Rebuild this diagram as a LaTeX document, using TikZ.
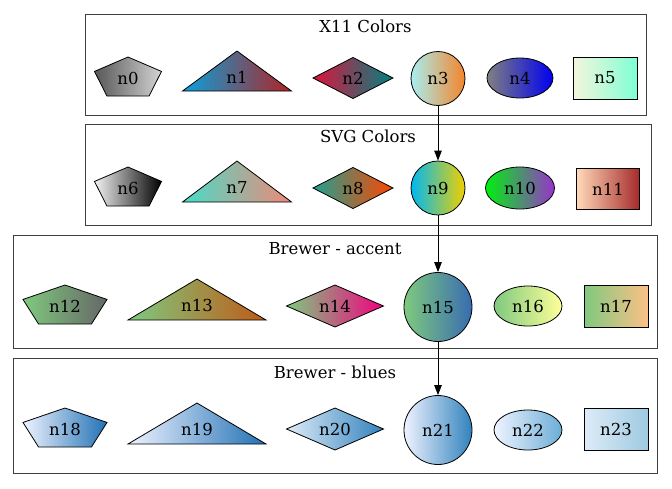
\documentclass[tikz,border=0pt]{standalone}
\usepackage{fontspec}
\setmainfont{DejaVu Serif}
\usetikzlibrary{shapes.geometric,arrows.meta}
\definecolor{c1a}{HTML}{0AA0DC}
\definecolor{c1b}{HTML}{B22222}
\definecolor{c2a}{HTML}{DC143C}
\definecolor{c2b}{HTML}{008080}
\definecolor{c3a}{HTML}{A8EEF0}
\definecolor{c3b}{HTML}{F4842A}
\definecolor{c4b}{HTML}{0000F0}
\definecolor{c5a}{HTML}{F5F5DC}
\definecolor{c5b}{HTML}{7FFFD4}
\definecolor{c7a}{HTML}{48DCC8}
\definecolor{c7b}{HTML}{F08878}
\definecolor{c8a}{HTML}{20A090}
\definecolor{c8b}{HTML}{FF4500}
\definecolor{c9a}{HTML}{00B8F0}
\definecolor{c9b}{HTML}{F0D000}
\definecolor{c10a}{HTML}{00F010}
\definecolor{c10b}{HTML}{9932CC}
\definecolor{c11a}{HTML}{FFDAB9}
\definecolor{c11b}{HTML}{A52A2A}
\definecolor{acc1}{HTML}{7FC97F}
\definecolor{acc3}{HTML}{FDC086}
\definecolor{acc4}{HTML}{FFFF99}
\definecolor{acc5}{HTML}{386CB0}
\definecolor{acc6}{HTML}{F0027F}
\definecolor{acc7}{HTML}{BF5B17}
\definecolor{acc8}{HTML}{666666}
\definecolor{bl1}{HTML}{EFF3FF}
\definecolor{bl2}{HTML}{DEEBF7}
\definecolor{bl4}{HTML}{9ECAE1}
\definecolor{bl5}{HTML}{6BAED6}
\definecolor{bl6}{HTML}{3182BD}
\definecolor{bl7}{HTML}{2171B5}
\newcommand\mypent[7]{% name, cx, ytop, w, h, lcol, rcol
  \path[nodeline, left color=#6, right color=#7] (#2,#3) -- ({#2+#4/2},{#3+0.37*#5}) -- ({#2+0.315*#4},{#3+#5}) -- ({#2-0.315*#4},{#3+#5}) -- ({#2-#4/2},{#3+0.37*#5}) -- cycle;
  \node[lbl] (#1) at (#2,{#3+0.55*#5}) {#1};}
\newcommand\mytri[7]{% name, cx, ytop, w, h, lcol, rcol
  \path[nodeline, left color=#6, right color=#7] (#2,#3) -- ({#2+#4/2},{#3+#5}) -- ({#2-#4/2},{#3+#5}) -- cycle;
  \node[lbl] (#1) at (#2,{#3+0.65*#5}) {#1};}
\newcommand\mydiam[7]{% name, cx, cy, w, h, lcol, rcol
  \path[nodeline, left color=#6, right color=#7] (#2,{#3-#5/2}) -- ({#2+#4/2},#3) -- (#2,{#3+#5/2}) -- ({#2-#4/2},#3) -- cycle;
  \node[lbl] (#1) at (#2,#3) {#1};}
\tikzset{
  txt/.style={font=\fontsize{16.5}{19}\selectfont},
  nodeline/.style={draw=black, line width=0.8pt},
  lbl/.style={inner sep=0pt, txt},
  cluster/.style={draw=black!75, line width=0.8pt},
  title/.style={inner sep=0pt, txt},
  ell/.style={ellipse, nodeline, inner sep=0pt, txt},
  circ/.style={circle, nodeline, inner sep=0pt, minimum size=54pt, txt},
  boxnode/.style={rectangle, nodeline, inner sep=0pt, txt},
  edge/.style={line width=0.8pt, -{Triangle[length=10pt,width=7.5pt]}}
}
\begin{document}
\begin{tikzpicture}[x=1pt,y=-1pt]
\useasboundingbox (0,0) rectangle (672,488);
% clusters
\draw[cluster] (85,14) rectangle (646,115);
\node[title] (t1) at (365.5,26) {X11 Colors};
\draw[cluster] (85,124) rectangle (651,225);
\node[title] (t2) at (368,136) {SVG Colors};
\draw[cluster] (13,235) rectangle (657,348);
\node[title] (t3) at (335,249) {Brewer - accent};
\draw[cluster] (13,358) rectangle (657,473);
\node[title] (t4) at (335,372) {Brewer - blues};
% row 1
\mypent{n0}{128}{57}{67}{39}{black!66}{black!17}
\mytri{n1}{237}{51}{109}{40}{c1a}{c1b}
\mydiam{n2}{353}{78}{80}{41}{c2a}{c2b}
\node[circ, left color=c3a, right color=c3b] (n3) at (438,78.5) {n3};
\node[ell, minimum width=66pt, minimum height=40pt, left color=black!50, right color=c4b] (n4) at (520,78) {n4};
\node[boxnode, minimum width=64pt, minimum height=42pt, left color=c5a, right color=c5b] (n5) at (605,78) {n5};
% row 2
\mypent{n6}{128}{167}{67}{39}{black!5}{black}
\mytri{n7}{237}{161}{109}{41}{c7a}{c7b}
\mydiam{n8}{353}{188}{80}{41}{c8a}{c8b}
\node[circ, left color=c9a, right color=c9b] (n9) at (438,188) {n9};
\node[ell, minimum width=69pt, minimum height=42pt, left color=c10a, right color=c10b] (n10) at (520,188) {n10};
\node[boxnode, minimum width=63pt, minimum height=41pt, left color=c11a, right color=c11b] (n11) at (608,189) {n11};
% row 3
\mypent{n12}{65}{285}{84}{39}{acc1}{acc8}
\mytri{n13}{197}{279}{138}{41}{acc1}{acc7}
\mydiam{n14}{335}{306}{97}{42}{acc1}{acc6}
\node[ell, minimum width=68pt, minimum height=69pt, left color=acc1, right color=acc5] (n15) at (438,307) {n15};
\node[ell, minimum width=68pt, minimum height=40pt, left color=acc1, right color=acc4] (n16) at (528,306) {n16};
\node[boxnode, minimum width=64pt, minimum height=42pt, left color=acc1, right color=acc3] (n17) at (616,306) {n17};
% row 4
\mypent{n18}{65}{408}{84}{39}{bl1}{bl7}
\mytri{n19}{197}{403}{138}{41}{bl1}{bl7}
\mydiam{n20}{335}{429}{97}{42}{bl2}{bl6}
\node[ell, minimum width=68pt, minimum height=69pt, left color=bl1, right color=bl6] (n21) at (438,430) {n21};
\node[ell, minimum width=68pt, minimum height=40pt, left color=bl1, right color=bl5] (n22) at (528,430) {n22};
\node[boxnode, minimum width=64pt, minimum height=42pt, left color=bl2, right color=bl4] (n23) at (616,429) {n23};
% edges
\draw[edge] (n3) -- (n9);
\draw[edge] (n9) -- (n15);
\draw[edge] (n15) -- (n21);
\end{tikzpicture}
\end{document}
